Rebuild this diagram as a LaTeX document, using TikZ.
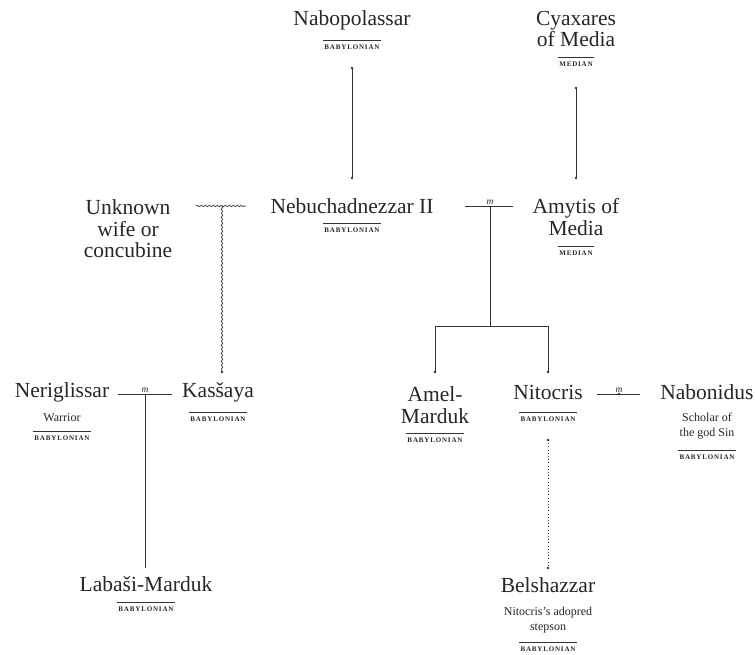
\documentclass[tikz,border=0pt]{standalone}
\usepackage{fontspec}
\setmainfont{Liberation Serif}
\usetikzlibrary{decorations.pathmorphing}
\definecolor{txt}{HTML}{262626}
\definecolor{ln}{HTML}{333333}
\begin{document}
\begin{tikzpicture}[x=1pt,y=-1pt,
  pname/.style={font=\fontsize{21.5}{21.5}\selectfont, text=txt, align=center, inner sep=0pt},
  psub/.style={font=\fontsize{12}{15}\selectfont, text=txt, align=center, inner sep=0pt},
  ptag/.style={font=\fontsize{7}{7}\selectfont\bfseries\addfontfeatures{LetterSpace=12}, text=txt, inner xsep=1.5pt, inner ysep=0pt},
  rule/.style={draw=ln, line width=1pt},
  conn/.style={draw=ln, line width=0.9pt},
  wavy/.style={draw=ln, line width=0.7pt, decorate, decoration={snake, amplitude=0.6pt, segment length=4pt}},
  dotted line/.style={draw=ln, line width=1pt, dash pattern=on 1pt off 2.2pt},
  mark m/.style={font=\fontsize{9.5}{9.5}\selectfont\itshape, text=txt, inner sep=0pt},
  jdot/.style={circle, fill=ln, inner sep=0pt, minimum size=2.8pt}
]
\useasboundingbox (0,0) rectangle (755,655);
% persons
\node[pname] (nabo) at (352,20) {Nabopolassar};
\node[ptag] (naboT) at (352,47) {BABYLONIAN};
\node[pname] (cyax) at (576,29) {Cyaxares\\of Media};
\node[ptag] (cyaxT) at (576,64) {MEDIAN};
\node[pname] (unk) at (128,229) {Unknown\\wife or\\concubine};
\node[pname] (nebu) at (352,206) {Nebuchadnezzar II};
\node[ptag] (nebuT) at (352,230) {BABYLONIAN};
\node[pname] (amy) at (576,217) {Amytis of\\Media};
\node[ptag] (amyT) at (576,253) {MEDIAN};
\node[pname] (neri) at (62,392) {Neriglissar};
\node[psub] (neriS) at (62,418) {Warrior};
\node[ptag] (neriT) at (62,438) {BABYLONIAN};
\node[pname] (kas) at (218,392) {Kasšaya};
\node[ptag] (kasT) at (218,419) {BABYLONIAN};
\node[pname] (amel) at (435,405) {Amel-\\Marduk};
\node[ptag] (amelT) at (435,440) {BABYLONIAN};
\node[pname] (nito) at (548,392) {Nitocris};
\node[ptag] (nitoT) at (548,419) {BABYLONIAN};
\node[pname] (nabon) at (707,392) {Nabonidus};
\node[psub] (nabonS) at (707,426) {Scholar of\\the god Sin};
\node[ptag] (nabonT) at (707,457) {BABYLONIAN};
\node[pname] (laba) at (146,584) {Labaši-Marduk};
\node[ptag] (labaT) at (146,609) {BABYLONIAN};
\node[pname] (bels) at (548,585) {Belshazzar};
\node[psub] (belsS) at (548,620) {Nitocris's adopred\\stepson};
\node[ptag] (belsT) at (548,649) {BABYLONIAN};
% rules above tags
\foreach \t in {naboT,cyaxT,nebuT,amyT,neriT,kasT,amelT,nitoT,nabonT,labaT,belsT}
  \draw[rule] ([yshift=3.5pt]\t.north west) -- ([yshift=3.5pt]\t.north east);
% coordinates of junctions
\coordinate (naboD) at (352,68);
\coordinate (nebuU) at (352,178);
\coordinate (cyaxD) at (576,88);
\coordinate (amyU) at (576,178);
% parent lines
\draw[conn] (naboD) -- (nebuU);
\draw[conn] (cyaxD) -- (amyU);
\foreach \c in {naboD,nebuU,cyaxD,amyU} \node[jdot] at (\c) {};
% illegitimate union
\coordinate (wL) at (196,206);
\coordinate (wR) at (246,206);
\coordinate (wM) at (222,206);
\coordinate (kasU) at (222,372);
\draw[wavy] (wL) -- (wR);
\draw[wavy] (wM) -- (kasU);
\node[jdot] at (kasU) {};
% Nebuchadnezzar - Amytis marriage
\coordinate (mL) at (465,206);
\coordinate (mR) at (513,206);
\coordinate (mM) at (490,206);
\coordinate (mB) at (490,326);
\coordinate (bL) at (435,326);
\coordinate (bR) at (548,326);
\coordinate (amelU) at (435,372);
\coordinate (nitoU) at (548,372);
\draw[conn] (mL) -- (mR);
\node[mark m, above=1.5pt] (m1) at (mM) {m};
\draw[conn] (mM) -- (mB);
\draw[conn] (amelU) -- (bL) -- (bR) -- (nitoU);
\node[jdot] at (amelU) {};
\node[jdot] at (nitoU) {};
% Neriglissar - Kassaya marriage
\coordinate (nL) at (118,394);
\coordinate (nR) at (172,394);
\coordinate (nM) at (145,394);
\coordinate (labaU) at (145,568);
\draw[conn] (nL) -- (nR);
\node[mark m, above=1.5pt] (m2) at (nM) {m};
\draw[conn] (nM) -- (labaU);
% Nitocris - Nabonidus marriage
\coordinate (oL) at (597,394);
\coordinate (oR) at (640,394);
\coordinate (oM) at (619,394);
\draw[conn] (oL) -- (oR);
\node[mark m, above=1.5pt] (m3) at (oM) {m};
\node[jdot] at (oM) {};
% Nitocris -> Belshazzar (adoption)
\coordinate (nitoD) at (548,440);
\coordinate (belsU) at (548,568);
\draw[dotted line] (nitoD) -- (belsU);
\node[jdot] at (nitoD) {};
\node[jdot] at (belsU) {};
\end{tikzpicture}
\end{document}
